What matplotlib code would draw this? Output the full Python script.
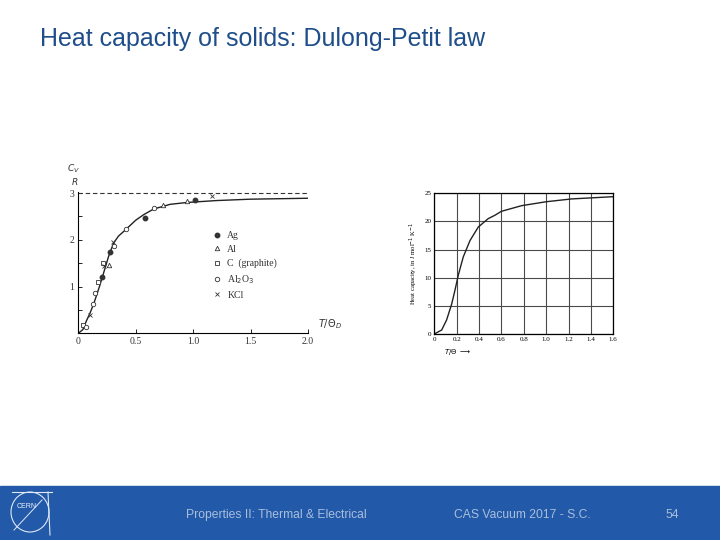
import matplotlib.pyplot as plt
from matplotlib.patches import Rectangle, Ellipse
from matplotlib.lines import Line2D

# left plot: Cv/R vs T/theta_D (curve)
curve_t = [0, 0.04, 0.073, 0.10, 0.131, 0.16, 0.184, 0.219, 0.263, 0.307, 0.35,
           0.409, 0.5, 0.57, 0.657, 0.8, 0.95, 1.2, 1.5, 2.0]
curve_cv = [0, 0.08, 0.28, 0.42, 0.61, 0.82, 1.0, 1.28, 1.64, 1.93, 2.08,
            2.21, 2.42, 2.54, 2.66, 2.76, 2.80, 2.84, 2.87, 2.89]

ag_t = [0.205, 0.272, 0.584, 1.02]
ag_cv = [1.21, 1.75, 2.46, 2.86]
al_t = [0.263, 0.739, 0.943]
al_cv = [1.46, 2.75, 2.84]
c_t = [0.044, 0.175, 0.219]
c_cv = [0.18, 1.10, 1.50]
al2o3_t = [0.067, 0.126, 0.146, 0.307, 0.418, 0.663]
al2o3_cv = [0.14, 0.63, 0.86, 1.86, 2.24, 2.69]
kcl_t = [0.102, 0.226, 0.30, 1.168]
kcl_cv = [0.39, 1.45, 1.96, 2.93]

left_xticks = [0, 0.5, 1.0, 1.5, 2.0]
left_xlabels = ['0', '0.5', '1.0', '1.5', '2.0']

# right plot: heat capacity in J/mol K vs T/theta
r_t = [0, 0.066, 0.11, 0.155, 0.185, 0.215, 0.259, 0.319, 0.393, 0.482, 0.542,
       0.60, 0.78, 1.0, 1.227, 1.6]
r_c = [0, 0.71, 2.5, 5.3, 7.8, 10.5, 13.7, 16.6, 19.0, 20.5, 21.1,
       21.8, 22.8, 23.5, 24.0, 24.4]
r_xticks = [0, 0.2, 0.4, 0.6, 0.8, 1.0, 1.2, 1.4, 1.6]
r_yticks = [0, 5, 10, 15, 20, 25]

title = 'Heat capacity of solids: Dulong-Petit law'
footer = ['Properties II: Thermal & Electrical', 'CAS Vacuum 2017 - S.C.', '54']

serif = 'Liberation Serif'
ink = '#333333'

fig = plt.figure(figsize=(7.2, 5.4), dpi=100)

fig.text(40 / 720, 1 - 46 / 540, title, fontsize=18, color='#1f4e8a',
         family='Liberation Sans', va='baseline', ha='left')

# ---- left chart
ax = fig.add_axes([78.3 / 720, 1 - 333.3 / 540, (308 - 78.3) / 720, (333.3 - 191.7) / 540])
ax.set_xlim(0, 2.0)
ax.set_ylim(0, 3.03)
for s in ['top', 'right']:
    ax.spines[s].set_visible(False)
for s in ['left', 'bottom']:
    ax.spines[s].set_linewidth(0.8)
ax.axhline(3, color=ink, lw=0.8, ls=(0, (4, 2.5)))
ax.plot(curve_t, curve_cv, color='#222222', lw=1.0)
ms = 3.2
ax.plot(ag_t, ag_cv, 'o', ms=ms, color=ink, label='Ag')
ax.plot(al_t, al_cv, '^', ms=ms, mfc='white', mec=ink, mew=0.6, label='Al')
ax.plot(c_t, c_cv, 's', ms=ms, mfc='white', mec=ink, mew=0.6, label='C  (graphite)')
ax.plot(al2o3_t, al2o3_cv, 'o', ms=ms, mfc='white', mec=ink, mew=0.6,
        label=r'Al$_2$O$_3$')
ax.plot(kcl_t, kcl_cv, 'x', ms=ms, color=ink, mew=0.6, label='KCl')
ax.set_xticks(left_xticks)
ax.set_xticklabels(left_xlabels, family=serif, fontsize=7, color=ink)
ax.set_yticks([0.5, 1, 1.5, 2, 2.5, 3])
ax.set_yticklabels(['', '1', '', '2', '', '3'], family=serif, fontsize=7, color=ink)
ax.tick_params(direction='in', length=3, width=0.6, pad=3)
ax.text(-0.04, 3.52, '$C_V$', fontsize=6.5, ha='center', va='center', color=ink)
ax.text(-0.03, 3.24, '$R$', fontsize=6.5, ha='center', va='center', color=ink)
ax.text(2.09, 0.2, r'$T/\Theta_D$', fontsize=7, ha='left', va='center', color=ink)
leg = ax.legend(loc='upper left', bbox_to_anchor=(0.56, 0.757), frameon=False,
                prop={'family': serif, 'size': 7}, handlelength=1.0,
                handletextpad=0.6, labelspacing=0.5, borderpad=0)
for t in leg.get_texts():
    t.set_color(ink)

# ---- right chart
ax2 = fig.add_axes([434.3 / 720, 1 - 334 / 540, 179 / 720, 140.7 / 540])
ax2.set_xlim(0, 1.6)
ax2.set_ylim(0, 25)
ax2.plot(r_t, r_c, color='#222222', lw=1.0)
ax2.set_xticks(r_xticks)
ax2.set_xticklabels(['0', '0.2', '0.4', '0.6', '0.8', '1.0', '1.2', '1.4', '1.6'],
                    family=serif, fontsize=5)
ax2.set_yticks(r_yticks)
ax2.set_yticklabels([str(v) for v in r_yticks], family=serif, fontsize=5)
ax2.tick_params(length=0, pad=2)
ax2.grid(True, color='#4a4a4a', lw=0.8)
for s in ax2.spines.values():
    s.set_linewidth(0.9)
ax2.set_ylabel(r'Heat capacity, in J mol$^{-1}$ K$^{-1}$', family=serif, fontsize=4.8,
               labelpad=3)
ax2.set_xlabel(r'$T/\Theta$ $\longrightarrow$', fontsize=5, labelpad=2)
ax2.xaxis.set_label_coords(0.13, -0.09)

# ---- footer band
fig.patches.append(Rectangle((0, 0), 1, 54 / 540, transform=fig.transFigure,
                             color='#2259a8', zorder=0))
fc = '#a9bedc'
fig.text(186 / 720, 1 - 515 / 540, footer[0], fontsize=8.7, color=fc,
         family='Liberation Sans', va='center', ha='left')
fig.text(454 / 720, 1 - 515 / 540, footer[1], fontsize=8.7, color=fc,
         family='Liberation Sans', va='center', ha='left')
fig.text(665 / 720, 1 - 515 / 540, footer[2], fontsize=8.7, color=fc,
         family='Liberation Sans', va='center', ha='left')

# simple CERN logo
fig.patches.append(Ellipse((30 / 720, 1 - 512 / 540), 38 / 720, 40 / 540,
                           transform=fig.transFigure, fill=False, ec='#dfe8f5', lw=0.8))
fig.text(27 / 720, 1 - 507 / 540, 'CERN', fontsize=5, color='#eef3fa',
         family='Liberation Sans', ha='center', va='center')
fig.lines.append(Line2D([12 / 720, 52 / 720], [1 - 492 / 540, 1 - 492 / 540],
                        transform=fig.transFigure, color='#dfe8f5', lw=0.8))
fig.lines.append(Line2D([48 / 720, 50 / 720], [1 - 492 / 540, 1 - 535 / 540],
                        transform=fig.transFigure, color='#dfe8f5', lw=0.8))
fig.lines.append(Line2D([14 / 720, 42 / 720], [1 - 530 / 540, 1 - 500 / 540],
                        transform=fig.transFigure, color='#dfe8f5', lw=0.7))

fig.savefig('out.png', dpi=100)
